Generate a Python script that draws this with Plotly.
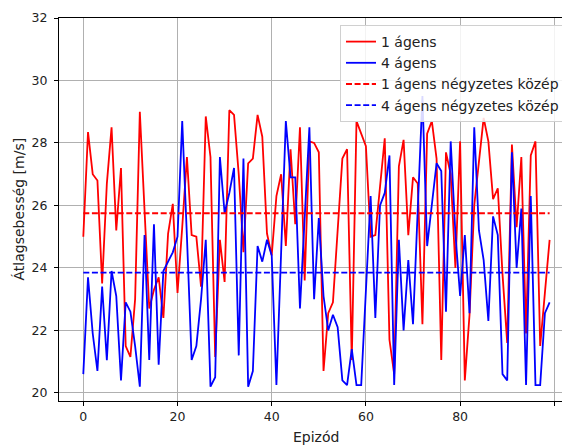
import plotly.graph_objects as go

episodes = list(range(100))

agent1 = [25.0, 28.35, 27.0, 26.8, 23.5, 26.7, 28.5, 25.2, 27.2, 21.5,
          21.15, 23.0, 29.0, 25.8, 22.7, 23.3, 23.7, 22.4, 25.1, 26.05,
          23.2, 25.3, 27.55, 25.05, 25.0, 23.4, 28.85, 27.55, 21.15, 24.9,
          23.55, 29.05, 28.9, 27.0, 24.5, 27.35, 27.5, 28.9, 28.2, 25.1,
          24.4, 26.3, 27.0, 24.7, 27.8, 25.4, 28.5, 23.6, 28.05, 28.0,
          27.7, 20.7, 22.55, 22.9, 25.2, 27.5, 27.8, 21.05, 28.7, 28.3,
          27.9, 25.0, 25.05, 26.6, 28.15, 21.7, 20.6, 27.25, 28.1, 25.05,
          26.9, 26.7, 22.2, 28.3, 28.7, 27.5, 21.05, 27.7, 27.0, 24.0,
          28.05, 20.4, 22.5, 26.0, 27.5, 28.8, 28.05, 26.2, 26.55, 23.8,
          21.6, 27.95, 25.3, 27.55, 21.9, 27.6, 28.05, 21.5, 23.2, 24.9]

agent4 = [20.6, 23.7, 21.9, 20.7, 23.4, 21.05, 23.9, 23.1, 20.4, 22.9,
          22.6, 21.5, 20.2, 25.05, 21.05, 25.4, 20.9, 23.9, 24.2, 24.5,
          25.0, 28.7, 25.0, 21.05, 21.5, 23.0, 24.9, 20.2, 20.5, 27.55,
          25.75, 26.4, 27.2, 21.2, 27.5, 20.2, 20.7, 24.7, 24.2, 24.9,
          24.4, 20.25, 24.5, 28.7, 26.9, 26.9, 22.7, 25.6, 28.5, 23.0,
          25.6, 23.1, 22.0, 22.5, 22.1, 20.4, 20.25, 21.4, 20.25, 20.25,
          23.2, 26.3, 22.4, 26.0, 26.4, 27.6, 20.25, 24.9, 22.0, 24.25,
          22.2, 25.6, 29.5, 24.7, 26.0, 27.35, 27.1, 22.6, 28.05, 25.1,
          23.1, 25.05, 22.55, 28.5, 25.2, 24.25, 22.3, 25.65, 25.05, 20.6,
          20.4, 27.7, 24.0, 25.9, 20.25, 26.3, 20.25, 20.25, 22.55, 22.9]

rms_agent1 = 25.75
rms_agent4 = 23.85

x_ticks = [0, 20, 40, 60, 80, 100]
x_tick_labels = ["0", "20", "40", "60", "80", ""]
y_ticks = [20, 22, 24, 26, 28, 30, 32]

names = ["1 ágens", "4 ágens", "1 ágens négyzetes közép", "4 ágens négyzetes közép"]

fig = go.Figure()
fig.add_trace(go.Scatter(x=episodes, y=agent1, mode="lines", name=names[0],
                         line=dict(color="#ff0000", width=1.8)))
fig.add_trace(go.Scatter(x=episodes, y=agent4, mode="lines", name=names[1],
                         line=dict(color="#0000ff", width=1.8)))
fig.add_trace(go.Scatter(x=episodes, y=[rms_agent1] * len(episodes), mode="lines", name=names[2],
                         line=dict(color="#ff0000", width=1.8, dash="6px,2.6px")))
fig.add_trace(go.Scatter(x=episodes, y=[rms_agent4] * len(episodes), mode="lines", name=names[3],
                         line=dict(color="#0000ff", width=1.8, dash="6px,2.6px")))

font = "DejaVu Sans, sans-serif"
# page body has an 8px margin; the figure is sized so that it fills the window
W, H = 562, 439
L, R, T, B = 51, 0, 10, 46
PW, PH = W - L - R, H - T - B

fig.update_layout(
    width=W, height=H,
    margin=dict(l=L, r=R, t=T, b=B),
    paper_bgcolor="white", plot_bgcolor="white",
    font=dict(family=font, size=12.5, color="#222222"),
    showlegend=True,
    legend=dict(x=(557 - L) / PW, y=1 - (17 - T) / PH, xanchor="right", yanchor="top",
                bgcolor="rgba(255,255,255,0.85)", bordercolor="#d0d0d0", borderwidth=1,
                font=dict(family=font, size=14, color="#222222"),
                itemwidth=30, tracegroupgap=0),
    xaxis=dict(range=[-5.16, 103.33], tickvals=x_ticks, ticktext=x_tick_labels,
               showgrid=True, gridcolor="#b0b0b0", gridwidth=0.8,
               showline=True, linecolor="black", linewidth=1, mirror=True,
               ticks="outside", ticklen=4, tickcolor="black", zeroline=False,
               tickfont=dict(family=font, size=12.5, color="#222222")),
    yaxis=dict(range=[19.74, 32], tickvals=y_ticks,
               showgrid=True, gridcolor="#b0b0b0", gridwidth=0.8,
               showline=True, linecolor="black", linewidth=1, mirror=False,
               ticks="outside", ticklen=4, tickcolor="black", zeroline=False,
               ticklabelstandoff=4,
               tickfont=dict(family=font, size=12.5, color="#222222")),
    annotations=[
        dict(text="Átlagsebesség [m/s]", xref="paper", yref="paper",
             x=(18 - 8 - L) / PW, y=0.5, xanchor="center", yanchor="middle",
             textangle=-90, showarrow=False, font=dict(family=font, size=14, color="#222222")),
        dict(text="Epizód", xref="paper", yref="paper",
             x=(315.5 - 8 - L) / PW, y=-(437 - 8 - (T + PH)) / PH, xanchor="center", yanchor="middle",
             showarrow=False, font=dict(family=font, size=14, color="#222222")),
    ],
)

fig.write_html("out.html")
